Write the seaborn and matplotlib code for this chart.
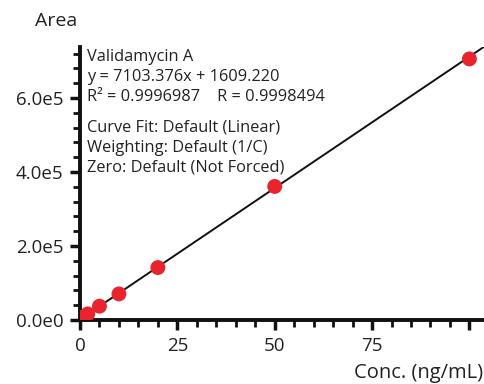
import numpy as np
import matplotlib
matplotlib.use("Agg")
import matplotlib.pyplot as plt
import seaborn as sns
from matplotlib.ticker import MultipleLocator, FuncFormatter

# calibration data
conc = [1, 2, 5, 10, 20, 50, 100]
area = [8900, 16500, 37400, 70500, 141800, 361000, 705800]

# fit shown in the chart text
slope = 7103.376
intercept = 1609.220
info_top = ["Validamycin A",
            "y = 7103.376x + 1609.220",
            "R\u00b2 = 0.9996987    R = 0.9998494"]
info_bottom = ["Curve Fit: Default (Linear)",
               "Weighting: Default (1/C)",
               "Zero: Default (Not Forced)"]

sns.set_theme(style="ticks")
plt.rcParams['font.family'] = ['Open Sans', 'DejaVu Sans']
txt = "#222222"

fig = plt.figure(figsize=(4.85, 3.84), dpi=100)
ax = fig.add_axes([80 / 485, 1 - 320 / 384, 1 - 80 / 485, (320 - 47) / 384])

ax.axline((0, intercept), slope=slope, color="#111111", lw=1.4, zorder=2)
sns.scatterplot(x=conc, y=area, ax=ax, color="#e8252c", s=115, edgecolor="none", zorder=3)

ax.set_xlim(0, 104)
ax.set_ylim(0, 7.38e5)
ax.xaxis.set_major_locator(MultipleLocator(25))
ax.xaxis.set_minor_locator(MultipleLocator(5))
ax.yaxis.set_major_locator(MultipleLocator(2e5))
ax.yaxis.set_minor_locator(MultipleLocator(4e4))

def sci(v, pos):
    if v == 0:
        return "0.0e0"
    e = int(np.floor(np.log10(abs(v))))
    return "%.1fe%d" % (v / 10 ** e, e)

ax.yaxis.set_major_formatter(FuncFormatter(sci))
ax.xaxis.set_major_formatter(FuncFormatter(lambda v, p: "" if v >= 100 else "%d" % v))

for s in ["top", "right"]:
    ax.spines[s].set_visible(False)
for s in ["left", "bottom"]:
    ax.spines[s].set_linewidth(2.8)
    ax.spines[s].set_color("#111111")
ax.tick_params(which="major", length=7, width=2.5, color="#111111", labelsize=13.5, labelcolor=txt, pad=5)
ax.tick_params(which="minor", length=5, width=2.0, color="#111111")

fig.text(35 / 485, 1 - 21 / 384, "Area", fontsize=14, color=txt, va="center", ha="left")
fig.text(483 / 485, 1 - 373 / 384, "Conc. (ng/mL)", fontsize=14.5, color=txt, va="center", ha="right")

for i, line in enumerate(info_top):
    fig.text(87 / 485, 1 - (57 + i * 20) / 384, line, fontsize=11.8, color=txt, va="center", ha="left")
for i, line in enumerate(info_bottom):
    fig.text(87 / 485, 1 - (128 + i * 20) / 384, line, fontsize=11.8, color=txt, va="center", ha="left")

fig.savefig("out.png", dpi=100)
